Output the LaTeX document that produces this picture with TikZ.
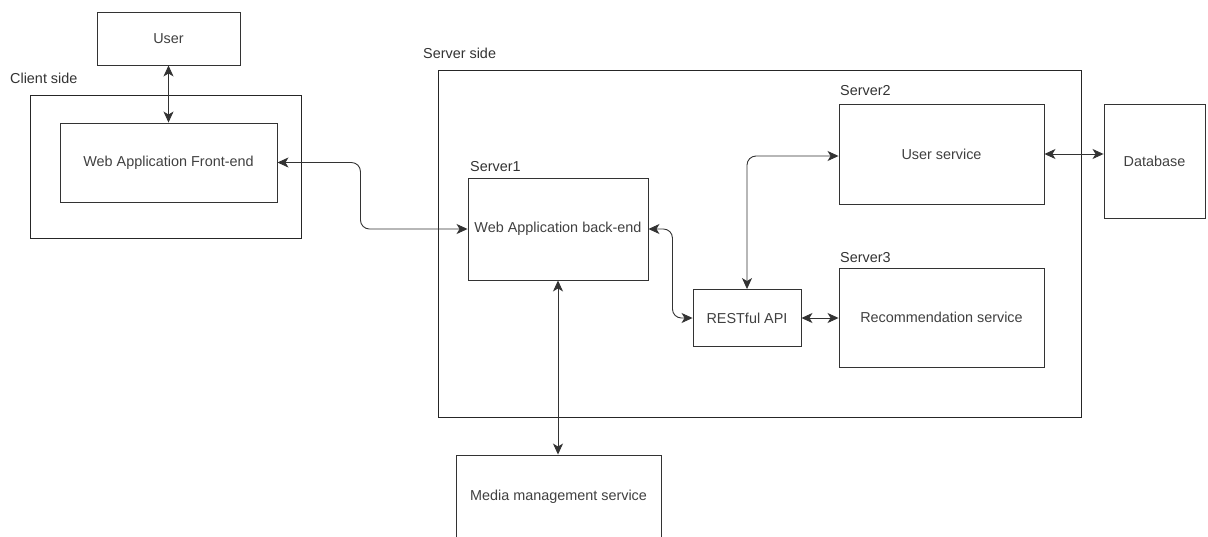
\documentclass[tikz,border=0pt]{standalone}
\usepackage{fontspec}
\setmainfont{Liberation Sans}
\usepackage{tikz}
\usetikzlibrary{arrows.meta,positioning}

\begin{document}
\begin{tikzpicture}[x=1pt,y=-1pt,
    box/.style={draw=black!80,line width=0.9pt,rectangle,text=black!75,
      font=\fontsize{14.4}{16}\selectfont},
    group/.style={draw=black!85,line width=0.9pt,rectangle},
    lbl/.style={anchor=west,inner sep=0pt,text=black!80,
      font=\fontsize{14.4}{16}\selectfont},
    link/.style={draw=black!80,line width=0.9pt,rounded corners=9pt,
      {Stealth[length=11pt,width=10pt,inset=3pt]}-{Stealth[length=11pt,width=10pt,inset=3pt]}}]
    \useasboundingbox (0,0) rectangle (1208,536);

    %Client side
    \begin{scope}
      \node[group,minimum width=271pt,minimum height=143pt] (client) at (165.5,166.5) {};
      \node[lbl] (clientlbl) at (10,78) {Client side};
      \node[box,minimum width=143pt,minimum height=53pt] (user) at (168.5,38.5) {User};
      \node[box,minimum width=217pt,minimum height=79pt] (front) at (168.5,162.5) {Web Application Front-end};
    \end{scope}

    %Server side
    \begin{scope}
      \node[group,minimum width=643pt,minimum height=347pt] (server) at (759.5,243.5) {};
      \node[lbl] (serverlbl) at (423,53) {Server side};
      \node[box,minimum width=180pt,minimum height=102pt] (back) at (558,229) {Web Application back-end};
      \node[lbl] (s1lbl) at (470,167) {Server1};
      \node[box,minimum width=205pt,minimum height=100pt] (usersrv) at (941.5,154) {User service};
      \node[lbl] (s2lbl) at (840,91) {Server2};
      \node[box,minimum width=205pt,minimum height=99pt] (recsrv) at (941.5,317.5) {Recommendation service};
      \node[lbl] (s3lbl) at (840,258) {Server3};
      \node[box,minimum width=108pt,minimum height=57pt] (rest) at (747,318) {RESTful API};
    \end{scope}

    %Outside
    \node[box,minimum width=101pt,minimum height=114pt] (db) at (1154.5,161) {Database};
    \node[box,minimum width=205pt,minimum height=84pt] (media) at (558.5,497) {Media management service};

    %Links
    \begin{scope}
      \draw[link] (user.south) -- (front.north);
      \draw[link] (front.east) -- ++(83,0) |- (back.west);
      \draw[link] (back.east) -- ++(24,0) |- (rest.west);
      \draw[link] (rest.north) |- ([yshift=-2pt]usersrv.west);
      \draw[link] (rest.east) -- (rest.east -| recsrv.west);
      \draw[link] (usersrv.east) -- (usersrv.east -| db.west);
      \draw[link] (back.south) -- (back.south |- media.north);
    \end{scope}
  \end{tikzpicture}
\end{document}
